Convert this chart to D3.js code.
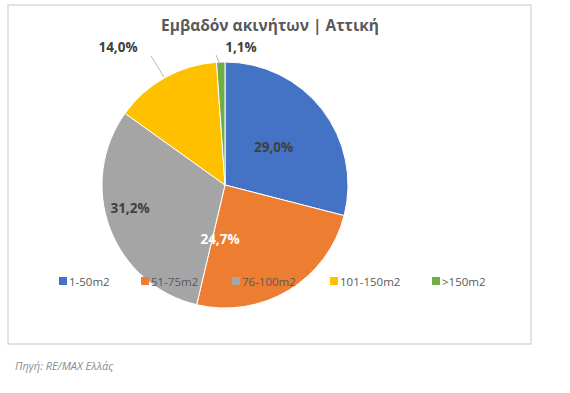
<!DOCTYPE html>
<html><head><meta charset="utf-8">
<script src="https://cdn.jsdelivr.net/npm/d3@7"></script>
<style>body{margin:0;background:#fff}svg{display:block}</style>
</head><body>
<script>
const categories = ["1-50m2","51-75m2","76-100m2","101-150m2",">150m2"];
const values = [29.0, 24.7, 31.2, 14.0, 1.1];
const labels = ["29,0%","24,7%","31,2%","14,0%","1,1%"];
const colors = ["#4472C4","#ED7D31","#A5A5A5","#FFC000","#70AD47"];
const title = "Εμβαδόν ακινήτων | Αττική";
const source = "Πηγή: RE/MAX Ελλάς";

const W=570,H=393;
const svg=d3.select("body").append("svg").attr("width",W).attr("height",H);
svg.append("rect").attr("width",W).attr("height",H).attr("fill","#fff");
svg.append("rect").attr("x",8).attr("y",5).attr("width",523).attr("height",339)
  .attr("fill","#fff").attr("stroke","#d9d9d9").attr("stroke-width",1.5);

const font="'Open Sans', sans-serif";
svg.append("text").attr("x",270).attr("y",31).attr("text-anchor","middle")
  .attr("font-family",font).attr("font-weight","bold").attr("font-size",15.5)
  .attr("fill","#595959").text(title);

const cx=225,cy=185,r=123;
const data=categories.map((c,i)=>({c,v:values[i],l:labels[i],col:colors[i]}));
const pie=d3.pie().value(d=>d.v).sort(null);
const arcs=pie(data);
const arc=d3.arc().innerRadius(0).outerRadius(r);
const g=svg.append("g").attr("transform",`translate(${cx},${cy})`);
g.selectAll("path").data(arcs).join("path").attr("d",arc)
  .attr("fill",d=>d.data.col).attr("stroke","#fff").attr("stroke-width",1);

const inner=d3.arc().innerRadius(0).outerRadius(r*1.0);
const labelPos=[
  inner.centroid(arcs[0]),
  [220-cx,239-cy],
  [130-cx,208-cy],
  [118-cx,47-cy],
  [241-cx,47-cy]
];
const labelColors=["#404040","#fff","#404040","#404040","#404040"];
const lineEnds=[[[151,56],[164,77]],[[216,55],[219,62]]];
svg.selectAll("line.leader").data(lineEnds).join("line").attr("class","leader")
  .attr("x1",d=>d[0][0]).attr("y1",d=>d[0][1]).attr("x2",d=>d[1][0]).attr("y2",d=>d[1][1])
  .attr("stroke","#a6a6a6").attr("stroke-width",0.8);
g.selectAll("text.lbl").data(arcs).join("text").attr("class","lbl")
  .attr("x",(d,i)=>labelPos[i][0]).attr("y",(d,i)=>labelPos[i][1])
  .attr("text-anchor","middle").attr("dominant-baseline","central")
  .attr("font-family",font).attr("font-weight","bold").attr("font-size",13.5)
  .attr("fill",(d,i)=>labelColors[i]).text(d=>d.data.l);

const legX=[59,141,232,330,432];
const leg=svg.append("g");
data.forEach((d,i)=>{
  leg.append("rect").attr("x",legX[i]).attr("y",277).attr("width",8).attr("height",8).attr("fill",d.col);
  leg.append("text").attr("x",legX[i]+10).attr("y",281).attr("dominant-baseline","central")
    .attr("font-family",font).attr("font-size",11.5).attr("fill","#595959").text(d.c);
});

svg.append("text").attr("x",15).attr("y",370).attr("font-family",font).attr("font-style","italic")
  .attr("font-size",11).attr("fill","#8c8c8c").text(source);
</script>
</body></html>
